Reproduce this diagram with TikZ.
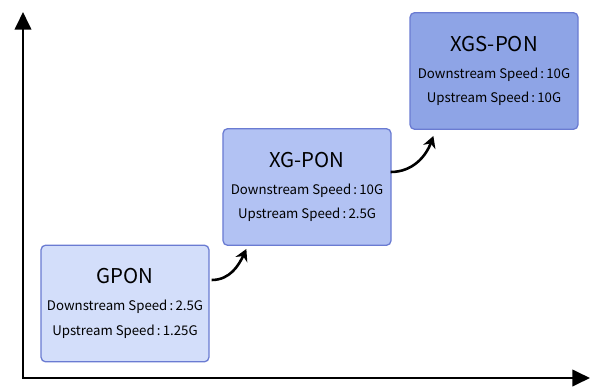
\documentclass[tikz,border=0pt]{standalone}
\usepackage{fontspec}
\setmainfont{Noto Sans CJK SC}
\usepackage{tikz}
\usetikzlibrary{arrows.meta, positioning, calc}
\usepackage{xcolor}

\definecolor{gponfill}{HTML}{D3DEFA}
\definecolor{xgfill}{HTML}{B2C2F3}
\definecolor{xgsfill}{HTML}{8EA4E6}
\definecolor{boxline}{HTML}{6A7BD2}

\begin{document}
\begin{tikzpicture}[
        x=0.03cm, y=0.03cm,
        entity/.style={
          rectangle,
          rounded corners=4pt,
          minimum width=5.04cm,
          minimum height=3.5cm,
          draw=boxline,
          line width=1.1pt,
          align=center,
          inner sep=0pt,
          font=\fontsize{11.3}{14}\selectfont
        },
        title/.style={
          font=\fontsize{17.4}{20}\selectfont
        },
        axis/.style={
          line width=2pt,
          -{Triangle[length=15pt, width=14pt]}
        },
        arrow/.style={
          line width=2.2pt,
          -{Stealth[length=10pt, width=11pt]}
        }
      ]
      \useasboundingbox (0,0) rectangle (590,387);

      % Axes
      \coordinate (origin) at (23,9);
      \coordinate (ytop) at (23,375);
      \coordinate (xend) at (590,9);
      \draw[axis] (origin) -- (ytop);
      \draw[axis] ([xshift=-1pt]origin) -- (xend);

      % Entities
      \node[entity, fill=gponfill] (gpon) at (125,83.5) {{\fontsize{17.4}{20}\selectfont GPON}\\[9pt]
        Downstream Speed\,:\,2.5G\\[7pt] Upstream Speed\,:\,1.25G};
      \node[entity, fill=xgfill] (xgpon) at (307,200) {{\fontsize{17.4}{20}\selectfont XG-PON}\\[9pt]
        Downstream Speed\,:\,10G\\[7pt] Upstream Speed\,:\,2.5G};
      \node[entity, fill=xgsfill] (xgspon) at (494,316) {{\fontsize{17.4}{20}\selectfont XGS-PON}\\[9pt]
        Downstream Speed\,:\,10G\\[7pt] Upstream Speed\,:\,10G};

      % Steps
      \draw[arrow] ($(gpon.east)+(2,23.5)$) to[out=0, in=-115] ($(xgpon.south west)+(24,-3)$);
      \draw[arrow] ($(xgpon.east)+(-1,15)$) to[out=0, in=-110] ($(xgspon.south west)+(24,-6)$);

    \end{tikzpicture}
\end{document}
